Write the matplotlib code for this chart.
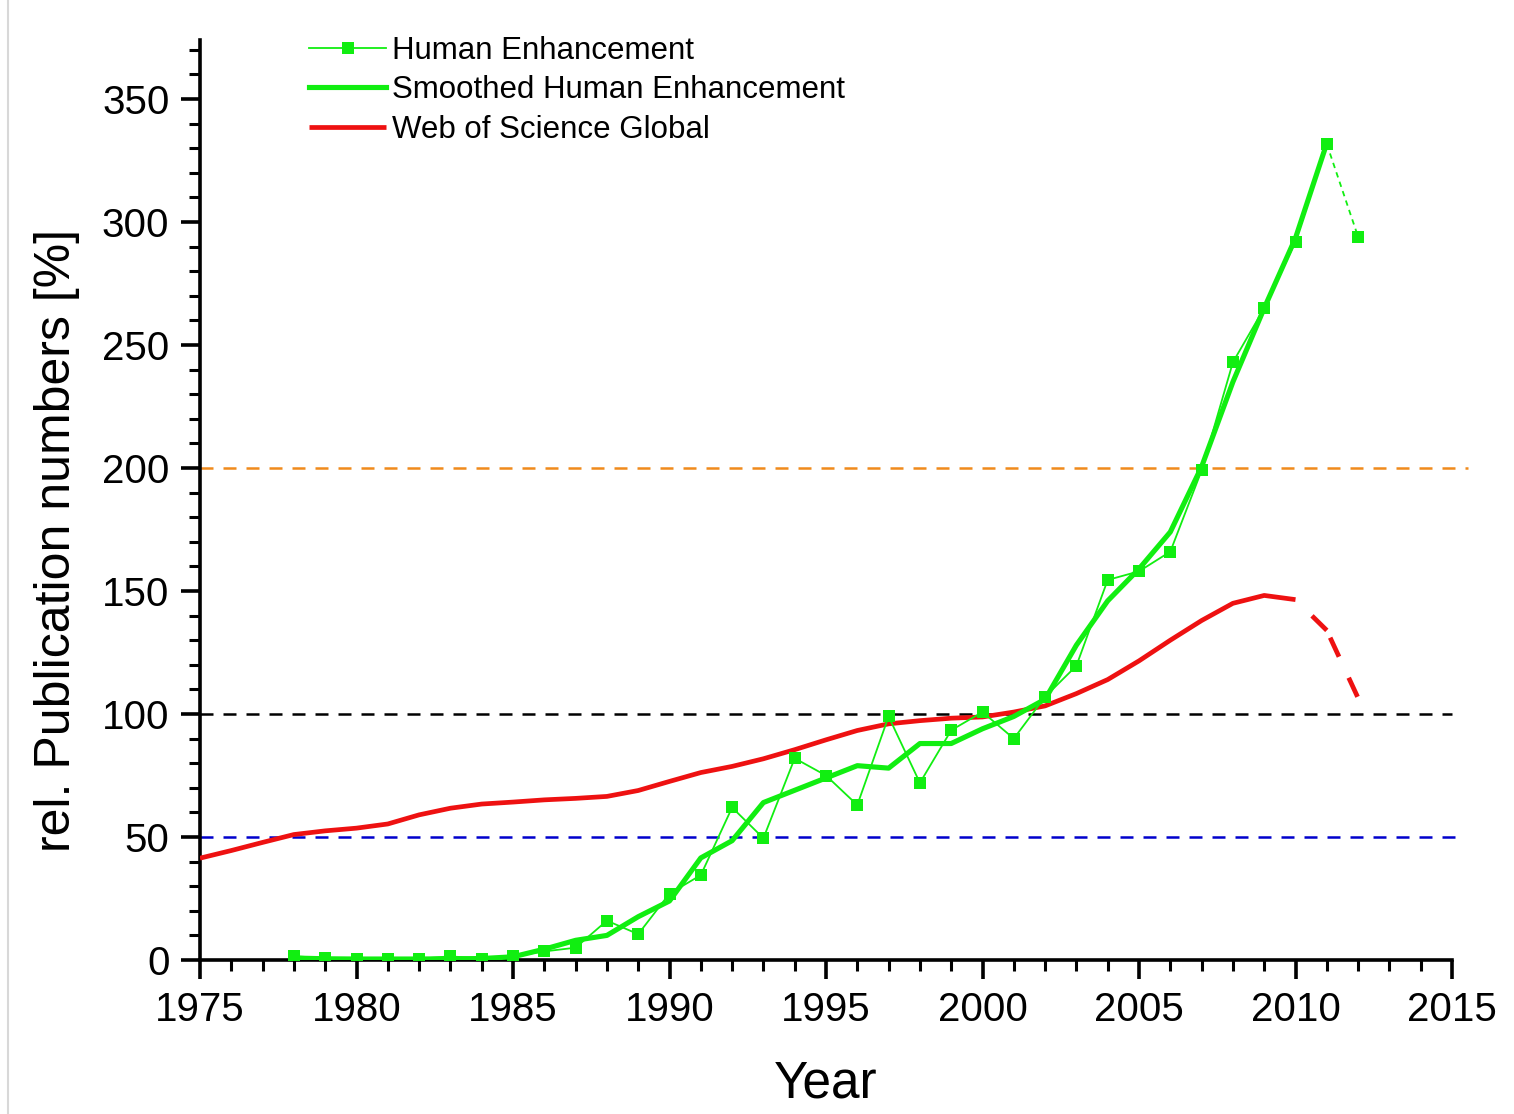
import matplotlib
matplotlib.use("Agg")
import matplotlib.pyplot as plt
from matplotlib.lines import Line2D

plt.rcParams['font.family'] = ['Liberation Sans', 'DejaVu Sans']

# ---- data ----
he_years = list(range(1978, 2013))
he_values = [1.5, 0.8, 0.5, 0.5, 0.5, 1.5, 0.5, 1.5, 3.5, 5, 16, 10.5, 27, 34.5, 62,
             49.5, 82, 75, 63, 99, 72, 93.4, 100.8, 90, 107, 119.6, 154.5, 158, 166,
             199, 243, 265, 292, 331.7, 294]

sm_years = list(range(1978, 2012))
sm_values = [0.8, 0.5, 0.4, 0.4, 0.4, 0.5, 0.6, 1.3, 4.4, 8, 10, 17.6, 24, 41.5, 48.5,
             64, 69, 74, 79, 78, 88, 88, 94, 99, 106, 128, 146, 159, 174, 200.5,
             235, 265, 293.5, 332]

wos_years = list(range(1975, 2011))
wos_values = [41.4, 44.5, 47.8, 51, 52.5, 53.6, 55.3, 59, 61.7, 63.4, 64.2, 65.1, 65.7,
              66.5, 68.9, 72.6, 76.2, 78.7, 81.8, 85.5, 89.5, 93.3, 96, 97.3, 98.3,
              98.8, 100.8, 103.3, 108.3, 114, 121.6, 130, 138, 145, 148.2, 146.5]
wos_tail_years = [2010, 2011, 2012]
wos_tail_values = [146.5, 134, 106.5]

ref_levels = [200, 100, 50]
ref_colors = ['#f08a1c', '#000000', '#0000cc']

xticks = [1975, 1980, 1985, 1990, 1995, 2000, 2005, 2010, 2015]
yticks = [0, 50, 100, 150, 200, 250, 300, 350]

green = '#11ee11'
red = '#ee1111'

fig = plt.figure(figsize=(15.14, 11.14), dpi=100)
ax = fig.add_axes([200/1514, 1 - 960/1114, (1452 - 200)/1514, (960 - 40)/1114])

# reference lines
ends = [1.013, 1.0, 1.008]
for lvl, col, e in zip(ref_levels, ref_colors, ends):
    ax.axhline(lvl, xmin=0, xmax=e, color=col, lw=1.8, ls=(0, (5.2, 4)), clip_on=False, zorder=1)

# WoS line
ax.plot(wos_years, wos_values, color=red, lw=3.4, zorder=3, label='Web of Science Global',
        solid_capstyle='butt')
ax.plot(wos_tail_years[:2], wos_tail_values[:2], color=red, lw=3.4,
        ls=(4.45, (4.45, 4.9)), zorder=3)
ax.plot(wos_tail_years[1:], wos_tail_values[1:], color=red, lw=3.4,
        ls=(7.65, (4.45, 4.9)), zorder=3)

# Human enhancement
ax.plot(he_years[:-1], he_values[:-1], color=green, lw=1.3, marker='s', ms=8.5,
        markeredgewidth=0, zorder=4, label='Human Enhancement')
ax.plot(he_years[-2:], he_values[-2:], color=green, lw=1.3, ls=(0, (3, 2.5)), zorder=4)
ax.plot(he_years[-1:], he_values[-1:], color=green, lw=0, marker='s', ms=8.5,
        markeredgewidth=0, zorder=4)

# Smoothed
ax.plot(sm_years, sm_values, color=green, lw=3.7, zorder=5, label='Smoothed Human Enhancement')

ax.set_xlim(1975, 2015)
ax.set_ylim(0, 374)
ax.set_xticks(xticks)
ax.set_yticks(yticks)
ax.set_xticks(range(1975, 2016), minor=True)
ax.set_yticks(range(0, 371, 10), minor=True)

for s in ['top', 'right']:
    ax.spines[s].set_visible(False)
for s in ['left', 'bottom']:
    ax.spines[s].set_linewidth(2.6)

ax.tick_params(axis='both', which='major', direction='out', length=14, width=2.6,
               labelsize=29, pad=8)
ax.tick_params(axis='both', which='minor', direction='out', length=8, width=2.2)

ax.set_xlabel('Year', fontsize=37, labelpad=22)
ax.set_ylabel('rel. Publication numbers [%]', fontsize=36)
ax.yaxis.set_label_coords(-0.0956, (960 - 540) / 920)

h = ax.get_legend_handles_labels()[0]
order = [1, 2, 0]
leg = ax.legend([h[i] for i in order],
                ['Human Enhancement', 'Smoothed Human Enhancement', 'Web of Science Global'],
                loc='upper left', bbox_to_anchor=(0.0774, 1.018), frameon=False,
                fontsize=22.5, handlelength=2.45, handletextpad=0.2, labelspacing=0.3,
                borderaxespad=0)

fig.add_artist(Line2D([8/1514, 8/1514], [0, 1], color='#d8d8d8', lw=1.5))

fig.savefig('out.png', dpi=100, facecolor='white')
